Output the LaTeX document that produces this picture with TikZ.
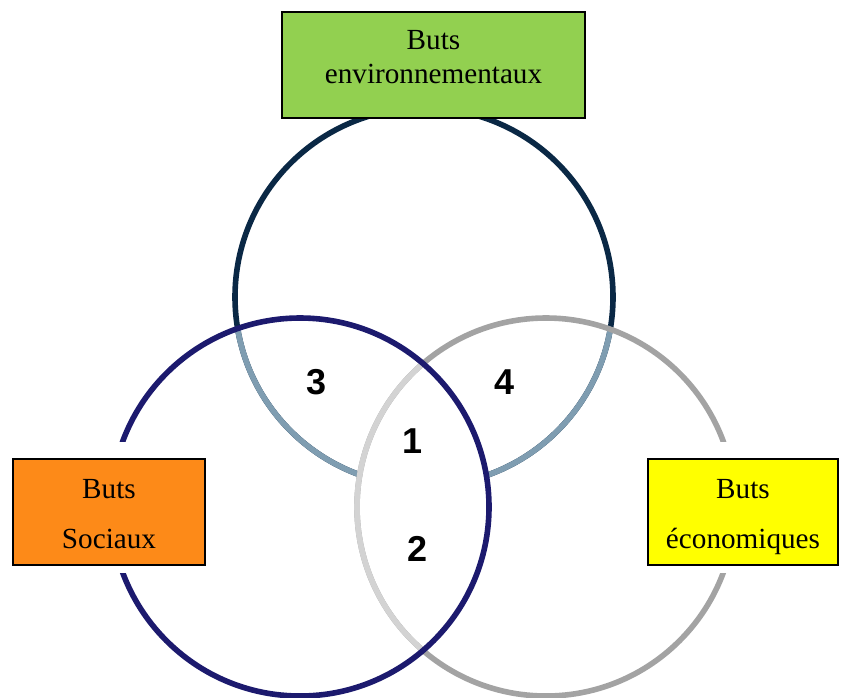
\documentclass[tikz,border=0pt]{standalone}
\usepackage{fontspec}
\setmainfont{Liberation Serif}
\newfontfamily\numfont{Liberation Sans}
\definecolor{envdark}{HTML}{0A2845}
\definecolor{envlight}{HTML}{7F9DB1}
\definecolor{socnavy}{HTML}{1C1A6E}
\definecolor{ecogray}{HTML}{A3A3A3}
\definecolor{ecolight}{HTML}{D3D3D3}
\definecolor{envfill}{HTML}{92D050}
\definecolor{socfill}{HTML}{FD8A18}
\definecolor{ecofill}{HTML}{FFFF00}
\begin{document}
\begin{tikzpicture}[x=0.5pt,y=-0.5pt,
    ring/.style={line width=2.8pt},
    goalbox/.style={draw=black,line width=1pt,minimum width=#1,minimum height=53pt,inner sep=0pt},
    goaltext/.style={align=center,font=\fontsize{14.6}{16.8}\selectfont},
    sidetext/.style={align=center,font=\fontsize{14.6}{25}\selectfont},
    zone/.style={font=\numfont\bfseries\fontsize{18}{18}\selectfont}]
  \useasboundingbox (0,0) rectangle (857,697);
  \coordinate (envc) at (424,297);
  \coordinate (socc) at (300,507);
  \coordinate (ecoc) at (546,507);
  % environmental ring, lighter where it runs inside the others
  \draw[ring,envdark] (envc) circle[radius=189];
  \begin{scope}
    \clip (socc) circle[radius=189];
    \draw[ring,envlight] (envc) circle[radius=189];
  \end{scope}
  \begin{scope}
    \clip (ecoc) circle[radius=189];
    \draw[ring,envlight] (envc) circle[radius=189];
  \end{scope}
  \begin{scope}
    \clip (socc) circle[radius=189];
    \fill[white] (ecoc) circle[radius=189];
  \end{scope}
  % economic ring
  \draw[ring,ecogray] (ecoc) circle[radius=189];
  \begin{scope}
    \clip (socc) circle[radius=189];
    \draw[ring,ecolight] (ecoc) circle[radius=189];
  \end{scope}
  % social ring
  \draw[ring,socnavy] (socc) circle[radius=189];
  \fill[white] (5,442) rectangle (215,573);
  \fill[white] (640,442) rectangle (846,573);
  \node[goalbox=151.5pt,fill=envfill] (envbox) at (433.5,65) {};
  \node[goalbox=96pt,fill=socfill] (socbox) at (109,512) {};
  \node[goalbox=95pt,fill=ecofill] (ecobox) at (743,512) {};
  \node[goaltext] (envtext) at (433.5,57) {Buts\\environnementaux};
  \node[sidetext] (soctext) at (109,514) {Buts\\Sociaux};
  \node[sidetext] (ecotext) at (743,517) {Buts\\économiques};
  \node[zone] (zone1) at (413,441) {1};
  \node[zone] (zone2) at (418,549) {2};
  \node[zone] (zone3) at (317,382) {3};
  \node[zone] (zone4) at (505,382) {4};
\end{tikzpicture}
\end{document}
